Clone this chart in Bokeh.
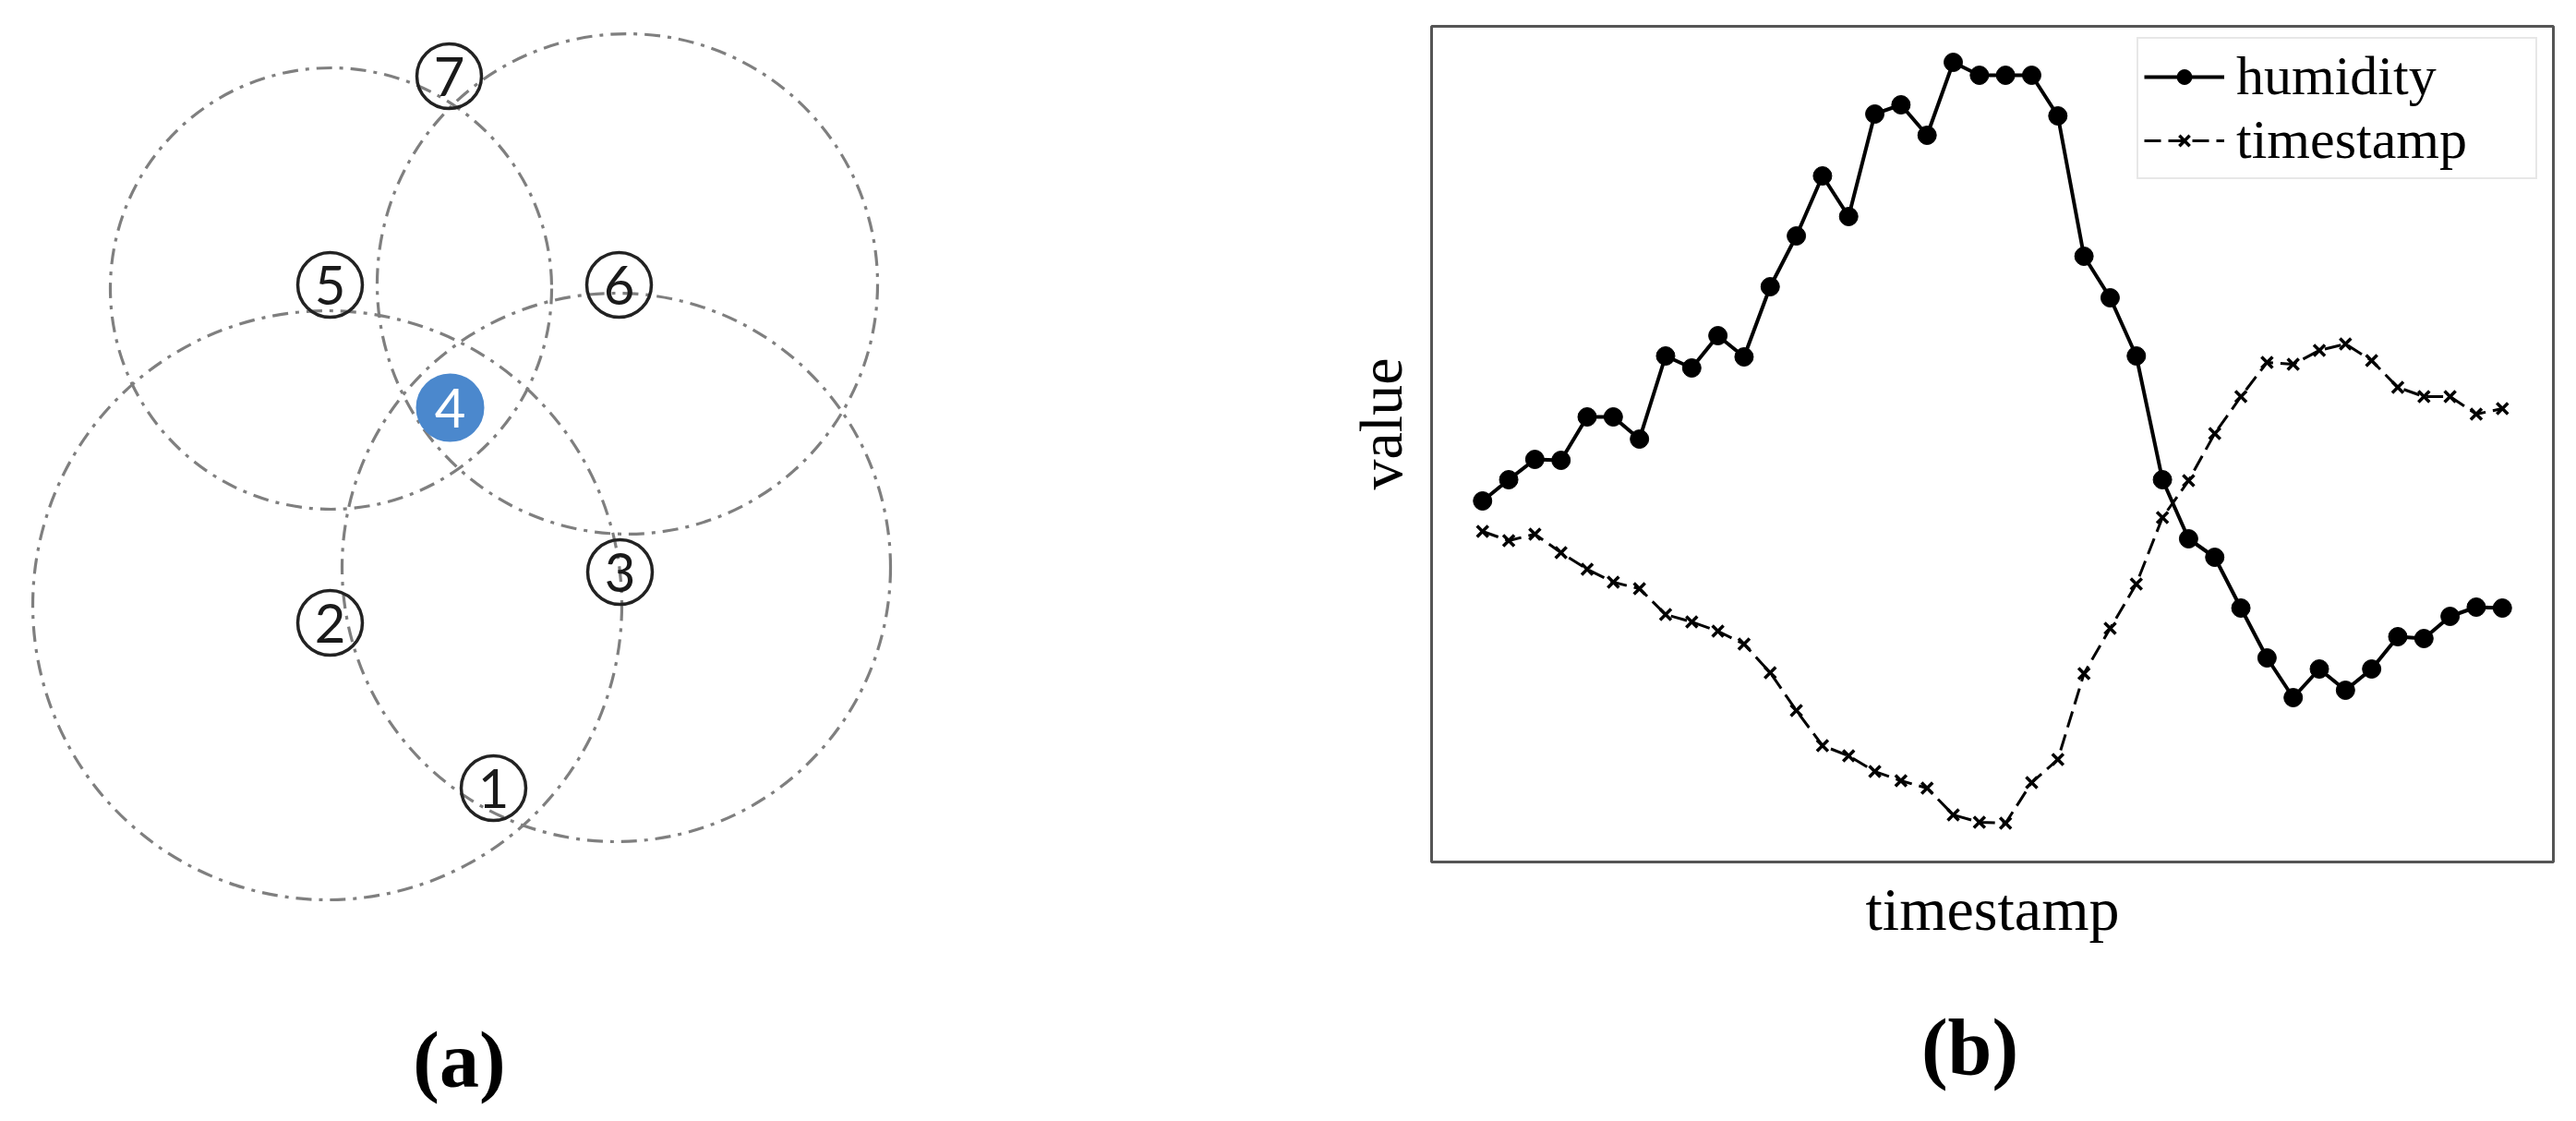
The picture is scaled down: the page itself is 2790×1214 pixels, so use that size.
import math
from bokeh.plotting import figure
from bokeh.models import (Range1d, Label, Legend, LegendItem, ColumnDataSource, BoxAnnotation)
from bokeh.embed import file_html
from bokeh.resources import INLINE
from bokeh.core.properties import value

# ---------------- Panel (a): sensor nodes and coverage rings (layout in px) ----------------
node_labels = ["1", "2", "3", "4", "5", "6", "7"]
node_x = [534, 357, 671, 487, 357, 670, 486]
node_y = [853, 674, 619, 441, 308, 308, 82]
target_node = "4"

ring_x = [358, 679, 354, 667]
ring_y = [312, 307, 655, 614]
ring_r = [239, 271, 319, 297]

# ---------------- Panel (b): humidity and timestamp series ----------------
sample = list(range(40))
humidity = [398, 421, 443, 442, 489, 489, 465, 555, 542, 577,
            554, 630, 685, 750, 706, 817, 827, 794, 873, 859,
            859, 859, 815, 663, 618, 555, 421, 357, 337, 282,
            228, 185, 216, 193, 216, 251, 249, 273, 283, 282]
timestamp = [365, 355, 362, 342, 324, 310, 303, 275, 267, 257,
             243, 212, 171, 133, 122, 105, 95, 87, 58, 50,
             49, 93, 118, 211, 260, 308, 380, 420, 471, 511,
             548, 546, 561, 568, 550, 521, 511, 511, 492, 498]

OFF = 0          # page offset of the canvas
W, H = 2788, 1212
SERIF = "Liberation Serif"

# panel (b) plot box in page px and its data limits
BOX_L, BOX_R, BOX_T, BOX_B = 1550, 2765, 28, 933
x_lo, x_hi = -1.95, 40.95
y_lo, y_hi = 7, 912


def bx(px):
    return x_lo + (px - BOX_L) / (BOX_R - BOX_L) * (x_hi - x_lo)


def by(py):
    return y_hi - (py - BOX_T) / (BOX_B - BOX_T) * (y_hi - y_lo)


p = figure(width=W, height=H, output_backend="svg", toolbar_location=None,
           x_range=Range1d(bx(OFF), bx(OFF + W)), y_range=Range1d(by(OFF + H), by(OFF)),
           x_axis_location=None, y_axis_location=None, min_border=0)
p.extra_x_ranges = {"px": Range1d(OFF, OFF + W)}
p.extra_y_ranges = {"py": Range1d(OFF + H, OFF)}
p.outline_line_color = None
p.grid.visible = False
p.background_fill_color = "white"

# ---------------- panel (a) ----------------
p.circle(x=ring_x, y=ring_y, radius=ring_r, fill_color=None,
         line_color="#7f7f7f", line_width=3.2, line_dash="17 8 4 8",
         x_range_name="px", y_range_name="py")

others = [i for i, l in enumerate(node_labels) if l != target_node]
tgt = [i for i, l in enumerate(node_labels) if l == target_node]
src_o = ColumnDataSource(dict(x=[node_x[i] for i in others], y=[node_y[i] for i in others],
                              t=[node_labels[i] for i in others]))
src_t = ColumnDataSource(dict(x=[node_x[i] for i in tgt], y=[node_y[i] for i in tgt],
                              t=[node_labels[i] for i in tgt]))
p.scatter(x="x", y="y", source=src_o, size=70, marker="circle", fill_color=None,
          line_color="#222222", line_width=3.5, x_range_name="px", y_range_name="py")
p.scatter(x="x", y="y", source=src_t, size=72, marker="circle", fill_color="#4b88cd",
          line_color="#4b88cd", line_width=2, x_range_name="px", y_range_name="py")
p.text(x="x", y="y", text="t", source=src_o, text_align="center", text_baseline="middle",
       text_font=value("Lato"), text_font_size="58px", text_color="#1a1a1a",
       x_range_name="px", y_range_name="py")
p.text(x="x", y="y", text="t", source=src_t, text_align="center", text_baseline="middle",
       text_font=value("Lato"), text_font_size="58px", text_color="white",
       x_range_name="px", y_range_name="py")

# ---------------- panel (b) ----------------
p.add_layout(BoxAnnotation(left=x_lo, right=x_hi, bottom=y_lo, top=y_hi,
                           fill_color=None, fill_alpha=0,
                           line_color="#555555", line_alpha=1, line_width=3,
                           level="underlay"))

src_b = ColumnDataSource(dict(x=sample, h=humidity, t=timestamp))
lh = p.line(x="x", y="h", source=src_b, line_color="black", line_width=4)
mh = p.scatter(x="x", y="h", source=src_b, marker="circle", size=20,
               fill_color="black", line_color="black")
lt = p.line(x="x", y="t", source=src_b, line_color="black", line_width=3, line_dash="18 8")
mt = p.scatter(x="x", y="t", source=src_b, marker="x", size=17,
               line_color="black", line_width=3.5)

legend = Legend(items=[LegendItem(label="humidity", renderers=[lh, mh]),
                       LegendItem(label="timestamp", renderers=[lt, mt])],
                location="top_right", margin=40, padding=6, spacing=0,
                glyph_width=87, glyph_height=40, label_height=56, label_standoff=13,
                label_width=318,
                label_text_font=SERIF, label_text_font_size="60px",
                label_text_color="black",
                border_line_color="#cfcfcf", border_line_width=2,
                background_fill_color="white", background_fill_alpha=1)
p.add_layout(legend)

# axis titles
p.add_layout(Label(x=(BOX_L + BOX_R) / 2, y=984, text="timestamp", text_align="center",
                   text_baseline="alphabetic", text_font=SERIF, text_font_size="66px",
                   text_color="black", x_range_name="px", y_range_name="py"))
p.add_layout(Label(x=1495, y=(BOX_T + BOX_B) / 2 - 22, text="value", angle=math.pi / 2,
                   text_align="center", text_baseline="alphabetic", text_font=SERIF,
                   text_font_size="66px", text_color="black",
                   x_range_name="px", y_range_name="py"))

# panel captions
p.add_layout(Label(x=497, y=1147, text="(a)", text_align="center", text_baseline="alphabetic",
                   text_font=SERIF, text_font_style="bold", text_font_size="86px",
                   text_color="black", x_range_name="px", y_range_name="py"))
p.add_layout(Label(x=2133, y=1133, text="(b)", text_align="center", text_baseline="alphabetic",
                   text_font=SERIF, text_font_style="bold", text_font_size="86px",
                   text_color="black", x_range_name="px", y_range_name="py"))

open("out.html", "w").write(file_html(p, INLINE))
